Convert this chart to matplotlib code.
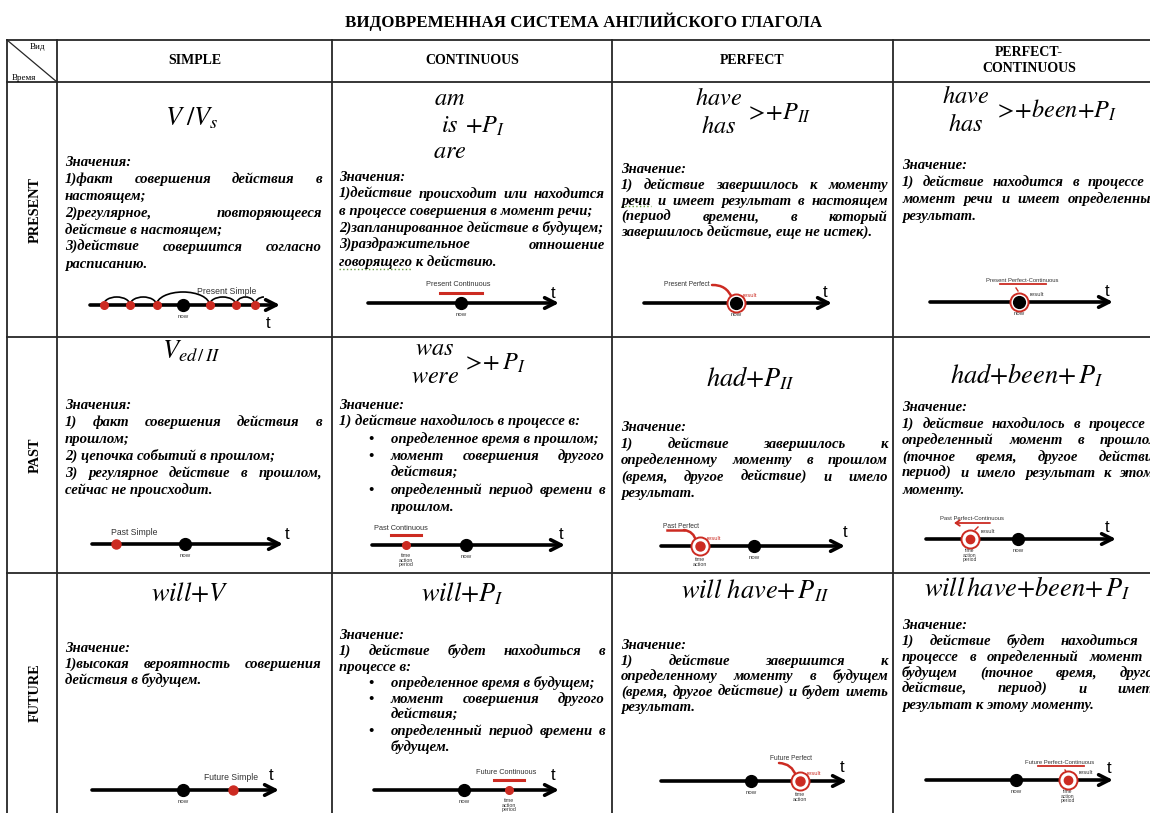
import matplotlib
matplotlib.use('Agg')
import matplotlib.pyplot as plt
from matplotlib.patches import Arc
from matplotlib.font_manager import FontProperties

plt.rcParams['mathtext.fontset'] = 'stix'

title = 'ВИДОВРЕМЕННАЯ СИСТЕМА АНГЛИЙСКОГО ГЛАГОЛА'
corner_top = 'Вид'
corner_bottom = 'Время'
aspects = ['SIMPLE', 'CONTINUOUS', 'PERFECT', 'PERFECT-\nCONTINUOUS']
tenses = ['PRESENT', 'PAST', 'FUTURE']

# формула: строка, либо (слова столбиком, хвост)
formulas = [
    [r'$V\;/V_s$', (['am', 'is', 'are'], r'${+}P_I$'),
     (['have', 'has'], r'${>}\!{+}P_{II}$'), (['have', 'has'], r'${>}\!{+}been{+}P_I$')],
    [r'$V_{ed\,/\,II}$', (['was', 'were'], r'${>}\!{+}\,P_I$'), r'$had{+}P_{II}$', r'$had{+}been{+}\,P_I$'],
    [r'$will{+}V$', r'$will{+}P_I$', r'$will\ have{+}\,P_{II}$', r'$will\,have{+}been{+}\,P_I$'],
]

heads = [
    ['Значения:', 'Значения:', 'Значение:', 'Значение:'],
    ['Значения:', 'Значение:', 'Значение:', 'Значение:'],
    ['Значение:', 'Значение:', 'Значение:', 'Значение:'],
]

# (маркер списка, строки абзаца)
meanings = [
    [
        [(False, ['1)факт совершения действия в', 'настоящем;']),
         (False, ['2)регулярное, повторяющееся', 'действие в настоящем;']),
         (False, ['3)действие совершится согласно', 'расписанию.'])],
        [(False, ['1)действие происходит или находится', 'в процессе совершения в момент речи;']),
         (False, ['2)запланированное действие в будущем;']),
         (False, ['3)раздражительное отношение', 'говорящего к действию.'])],
        [(False, ['1) действие завершилось к моменту', 'речи и имеет результат в настоящем',
                  '(период времени, в который', 'завершилось действие, еще не истек).'])],
        [(False, ['1) действие находится в процессе в', 'момент речи и имеет определенный',
                  'результат.'])],
    ],
    [
        [(False, ['1) факт совершения действия в', 'прошлом;']),
         (False, ['2) цепочка событий в прошлом;']),
         (False, ['3) регулярное действие в прошлом,', 'сейчас не происходит.'])],
        [(False, ['1) действие находилось в процессе в:']),
         (True, ['определенное время в прошлом;']),
         (True, ['момент совершения другого', 'действия;']),
         (True, ['определенный период времени в', 'прошлом.'])],
        [(False, ['1) действие завершилось к', 'определенному моменту в прошлом',
                  '(время, другое действие) и имело', 'результат.'])],
        [(False, ['1) действие находилось в процессе в', 'определенный момент в прошлом',
                  '(точное время, другое действие', 'период) и имело результат к этому',
                  'моменту.'])],
    ],
    [
        [(False, ['1)высокая вероятность совершения', 'действия в будущем.'])],
        [(False, ['1) действие будет находиться в', 'процессе в:']),
         (True, ['определенное время в будущем;']),
         (True, ['момент совершения другого', 'действия;']),
         (True, ['определенный период времени в', 'будущем.'])],
        [(False, ['1) действие завершится к', 'определенному моменту в будущем',
                  '(время, другое действие) и будет иметь', 'результат.'])],
        [(False, ['1) действие будет находиться в', 'процессе в определенный момент в',
                  'будущем (точное время, другое', 'действие, период) и иметь',
                  'результат к этому моменту.'])],
    ],
]

timeline_labels = [
    ['Present Simple', 'Present Continuous', 'Present Perfect', 'Present Perfect-Continuous'],
    ['Past Simple', 'Past Continuous', 'Past Perfect', 'Past Perfect-Continuous'],
    ['Future Simple', 'Future Continuous', 'Future Perfect', 'Future Perfect-Continuous'],
]

# ---- разметка (пиксели) ----
col_x = [7, 57, 332, 612, 893, 1165]
row_y = [40, 82, 337, 573, 813]
text_left = [65, 339, 621, 902]
text_right = [322, 605, 888, 1160]
text_top = [[162, 177, 169, 165], [405, 405, 427, 407], [648, 635, 645, 625]]
line_step = [[17, 17, 16, 17], [17, 17, 16.5, 16.5], [16, 16, 15.5, 16]]

formula_xy = [[(192, 117), (450, 126), (719, 113), (966, 111)],
              [(191, 350), (435, 363), (751, 378), (1027, 375)],
              [(190, 593), (462, 593), (755, 590), (1027, 588)]]
stack_rows = {2: [-14, 14], 3: [-27, 0, 26]}
tail_x = {(0, 1): 465, (0, 2): 745, (0, 3): 994, (1, 1): 462}
label_size = [6.2, 5.3, 4.8, 4.2]

axis_lines = [[(90, 280, 305), (368, 559, 303), (644, 832, 303), (930, 1113, 302)],
              [(92, 283, 544), (372, 565, 545), (661, 845, 546), (926, 1116, 539)],
              [(92, 279, 790), (374, 559, 790), (661, 847, 781), (926, 1113, 780)]]
now_x = [[183, 461, 736, 1019], [185, 466, 754, 1018], [183, 464, 751, 1016]]
event_x = [[None, None, 736, 1019], [116, 406, 700, 970], [233, 509, 800, 1068]]
label_xy = [[(227, 291), (458, 284), (687, 284), (1022, 280)],
            [(134, 532), (401, 528), (681, 526), (972, 518)],
            [(231, 777), (506, 772), (791, 758), (1060, 762)]]
t_xy = [[(268, 323), (553, 293), (825, 292), (1107, 291)],
        [(287, 534), (561, 534), (845, 532), (1107, 527)],
        [(271, 775), (553, 775), (842, 767), (1109, 768)]]

red = '#cc2b22'
grid_color = '#262626'

fig = plt.figure(figsize=(11.5, 8.13), dpi=100)
ax = fig.add_axes([0, 0, 1, 1])
ax.set_xlim(0, 1150)
ax.set_ylim(813, 0)
ax.axis('off')
renderer = fig.canvas.get_renderer()

body_fp = FontProperties(family='Liberation Serif', style='italic', weight='bold', size=10)
w_ref = renderer.get_text_width_height_descent('в процессе совершения в момент речи;', body_fp, ismath=False)[0]
body_fp.set_size(10 * 253 / w_ref)


def word_width(s):
    return renderer.get_text_width_height_descent(s, body_fp, ismath=False)[0]


def draw_line(s, x0, x1, y, justify):
    if not justify:
        ax.text(x0, y, s, fontproperties=body_fp, va='baseline', ha='left')
        return
    words = s.split()
    ws = [word_width(w) for w in words]
    gap = (x1 - x0 - sum(ws)) / (len(words) - 1)
    x = x0
    for w, wd in zip(words, ws):
        ax.text(x, y, w, fontproperties=body_fp, va='baseline', ha='left')
        x += wd + gap


# ---- сетка таблицы ----
for y in row_y[:-1]:
    ax.plot([col_x[0], 1150], [y, y], color=grid_color, lw=1.3)
for x in col_x[:-1]:
    ax.plot([x, x], [row_y[0], 813], color=grid_color, lw=1.3)
ax.plot([col_x[0], col_x[1]], [row_y[0], row_y[1]], color=grid_color, lw=0.9)

ax.text(584, 22, title, family='Liberation Serif', weight='bold', fontsize=12.2,
        ha='center', va='center')
ax.text(37, 47, corner_top, family='Liberation Serif', fontsize=6.5, ha='center', va='center')
ax.text(24, 78, corner_bottom, family='Liberation Serif', fontsize=6.5, ha='center', va='center')

for j, name in enumerate(aspects):
    xc = (col_x[j + 1] + col_x[j + 2]) / 2
    ax.text(xc, 61, name, family='Liberation Serif', weight='bold', fontsize=10,
            ha='center', va='center', linespacing=1.3)

for i, name in enumerate(tenses):
    yc = (row_y[i + 1] + row_y[i + 2]) / 2
    ax.text(35, yc, name, family='Liberation Serif', weight='bold', fontsize=10.3,
            ha='center', va='center', rotation=90)

# ---- формулы ----
for i in range(3):
    for j in range(4):
        f = formulas[i][j]
        fx, fy = formula_xy[i][j]
        if isinstance(f, str):
            ax.text(fx, fy + 8, f, fontsize=19, ha='center', va='baseline')
        else:
            words, tail = f
            for w, dy in zip(words, stack_rows[len(words)]):
                ax.text(fx, fy + dy + 6, '$' + w + '$', fontsize=17.5, ha='center', va='baseline')
            ax.text(tail_x[(i, j)], fy + 7, tail, fontsize=17.5, ha='left', va='baseline')

# ---- тексты значений ----
for i in range(3):
    for j in range(4):
        y = text_top[i][j]
        step = line_step[i][j]
        ax.text(text_left[j], y + 4, heads[i][j], fontproperties=body_fp, va='baseline')
        y += step
        for bullet, lines in meanings[i][j]:
            x0 = text_left[j] + (52 if bullet else 0)
            if bullet:
                ax.text(text_left[j] + 29, y + 4, '•', fontproperties=body_fp, va='baseline')
            for k, line in enumerate(lines):
                draw_line(line, x0, text_right[j], y + 4, k < len(lines) - 1)
                y += step

# подчеркивания проверки орфографии
ax.plot([339, 339 + word_width('говорящего')], [269, 269], color='#5f9a35', lw=1, ls=':')
ax.plot([621, 621 + word_width('речи')], [206, 206], color='#5f9a35', lw=1, ls=':')


# ---- временные оси ----
def small(x, y, s, size=4.6, color='#333333'):
    ax.text(x, y, s, family='Liberation Sans', fontsize=size, color=color,
            ha='center', va='center', linespacing=0.95)


def ring(x, y):
    ax.plot(x, y, 'o', ms=13, mfc='white', mec=red, mew=1.4, zorder=4)


for i in range(3):
    for j in range(4):
        x0, x1, y = axis_lines[i][j]
        ax.annotate('', xy=(x1, y), xytext=(x0, y),
                    arrowprops=dict(arrowstyle='->,head_length=0.75,head_width=0.38',
                                    lw=2.6, color='black', shrinkA=0, shrinkB=0), zorder=3)
        tx, ty = t_xy[i][j]
        ax.text(tx, ty, 't', family='Liberation Sans', fontsize=12, ha='center', va='center')
        lx, ly = label_xy[i][j]
        small(lx, ly, timeline_labels[i][j], size=label_size[j])
        nx = now_x[i][j]
        ex = event_x[i][j]

        if j == 2 or j == 3:
            ring(ex, y)
        ax.plot(nx, y, 'o', ms=8.5, color='black', zorder=5)
        small(nx, y + 11, 'now', size=4.4)

        if j == 0:
            if i == 0:
                step = 26.5
                dots = [nx + k * step for k in (-3, -2, -1, 1, 2, 3)]
                dots[-1] = nx + 72
                for a, b in zip(dots[:-1], dots[1:]):
                    h = 26 if a < nx < b else 16
                    ax.add_patch(Arc(((a + b) / 2, y), b - a, h, theta1=180, theta2=360,
                                     color='black', lw=1.2))
                ax.add_patch(Arc((dots[-1] + 9, y), 18, 16, theta1=180, theta2=270,
                                 color='black', lw=1.2))
                ax.plot(dots, [y] * len(dots), 'o', ms=5.5, color=red, zorder=4)
            else:
                ax.plot(ex, y, 'o', ms=6.5, color=red, zorder=4)
        elif j == 1:
            cx = nx if i == 0 else ex
            half = 21 if i == 0 else 15
            ax.plot([cx - half, cx + half], [y - 10, y - 10], color=red, lw=2.2)
            if i > 0:
                ax.plot(ex, y, 'o', ms=5.5, color=red, zorder=4)
                small(ex, y + 15, 'time\naction\nperiod', size=3.8)
        elif j == 2:
            if i > 0:
                ax.plot(ex, y, 'o', ms=6.5, color=red, zorder=5)
                small(ex, y + 16, 'time\naction', size=3.8)
            if i == 1:
                ax.plot([lx - 14, lx + 3], [ly + 4, ly + 4], color=red, lw=1.8)
            start = (lx + 25, ly + 1) if i == 0 else ((lx + 3, ly + 4) if i == 1 else (lx - 12, ly + 5))
            ax.annotate('', xy=(ex - 4, y - 5), xytext=start,
                        arrowprops=dict(arrowstyle='-', color=red, lw=1.8, shrinkA=0, shrinkB=0,
                                        connectionstyle='arc3,rad=-0.35'))
            small(ex + 14, y - 8, 'result', size=4.2, color=red)
        else:
            if i > 0:
                ax.plot(ex, y, 'o', ms=6, color=red, zorder=5)
                small(ex, y + 16, 'time\naction\nperiod', size=3.6)
            if i == 1:
                ax.annotate('', xy=(lx - 18, ly + 5), xytext=(lx + 18, ly + 5),
                            arrowprops=dict(arrowstyle='->,head_length=0.3,head_width=0.2',
                                            color=red, lw=1.3, shrinkA=0, shrinkB=0))
                ax.plot([ex + 8, ex + 5], [ly + 9, ly + 12], color=red, lw=1)
            else:
                ax.plot([lx - 22, lx + 24], [ly + 4, ly + 4], color=red, lw=1.3)
                ax.plot([ex - 3, ex - 1], [ly + 8, ly + 11], color=red, lw=1)
            small(ex + 18, y - 8, 'result', size=4.2)

fig.savefig('out.png', dpi=100, facecolor='white')
